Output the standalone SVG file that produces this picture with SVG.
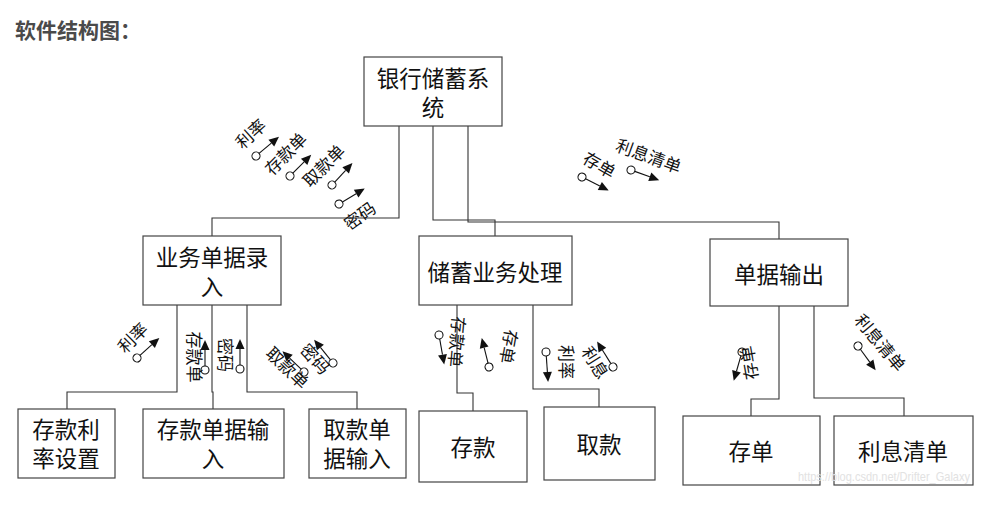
<svg xmlns="http://www.w3.org/2000/svg" xmlns:xlink="http://www.w3.org/1999/xlink" width="989" height="511" viewBox="0 0 989 511">
  <style>
    .box { fill: #ffffff; stroke: #444444; stroke-width: 1.2; }
    .wire { fill: none; stroke: #333333; stroke-width: 1.1; }
    .lbl { font-family: "Noto Sans CJK SC", "Liberation Serif", serif; font-size: 22.5px; fill: #111111; text-anchor: middle; dominant-baseline: central; }
    .flow { font-family: "Noto Sans CJK SC", "Liberation Serif", serif; font-size: 17px; fill: #111111; text-anchor: middle; dominant-baseline: central; }
    .title { font-family: "Noto Sans CJK SC", "Liberation Sans", sans-serif; font-size: 21px; font-weight: bold; fill: #4a4a4a; }
    .mark { font-family: "Liberation Sans", Arial, sans-serif; font-size: 13px; fill: #e2e2e2; }
  </style>
  <defs>
    <!-- data couple: open circle, shaft, filled arrowhead pointing along +x -->
    <g id="couple">
      <line x1="4" y1="0" x2="20" y2="0" stroke="#111111" stroke-width="1.1"/>
      <polygon points="20,-4.5 30,0 20,4.5" fill="#111111"/>
      <circle cx="0" cy="0" r="4" fill="#ffffff" stroke="#111111" stroke-width="1.1"/>
    </g>
  </defs>

  <rect width="989" height="511" fill="#ffffff"/>

  <text class="title" x="15" y="38">软件结构图：</text>

  <!-- connectors -->
  <g id="connectors">
    <polyline class="wire" points="399,126 399,218 212,218 212,236"/>
    <polyline class="wire" points="433,126 433,220 495,220 495,236"/>
    <polyline class="wire" points="468,126 468,222 779,222 779,239"/>

    <polyline class="wire" points="177,305 177,392 67,392 67,409"/>
    <polyline class="wire" points="212,305 212,392 213,392 213,409"/>
    <polyline class="wire" points="247,305 247,392 357,392 357,409"/>

    <polyline class="wire" points="457,305 457,393 473,393 473,411"/>
    <polyline class="wire" points="533,305 533,389 599,389 599,407"/>

    <polyline class="wire" points="779,306 779,399 751,399 751,416"/>
    <polyline class="wire" points="814,306 814,398 904,398 904,416"/>
  </g>

  <!-- data couples on the links -->
  <g id="flows">
    <use xlink:href="#couple" transform="translate(256,156) rotate(-40)"/>
    <use xlink:href="#couple" transform="translate(290,176) rotate(-45)"/>
    <use xlink:href="#couple" transform="translate(332,185) rotate(-47)"/>
    <use xlink:href="#couple" transform="translate(339,204) rotate(-31)"/>
    <text class="flow" transform="translate(250,133) rotate(-42)">利率</text>
    <text class="flow" transform="translate(285,153) rotate(-45)">存款单</text>
    <text class="flow" transform="translate(323,165) rotate(-45)">取款单</text>
    <text class="flow" transform="translate(359,215) rotate(-36)">密码</text>

    <use xlink:href="#couple" transform="translate(582,177) rotate(27)"/>
    <use xlink:href="#couple" transform="translate(631,170) rotate(20)"/>
    <text class="flow" transform="translate(600,164) rotate(30)">存单</text>
    <text class="flow" transform="translate(649,155) rotate(20)">利息清单</text>

    <use xlink:href="#couple" transform="translate(137,358) rotate(-42)"/>
    <use xlink:href="#couple" transform="translate(205,370) rotate(-90)"/>
    <use xlink:href="#couple" transform="translate(240,369) rotate(-90)"/>
    <use xlink:href="#couple" transform="translate(304,372) rotate(-136)"/>
    <use xlink:href="#couple" transform="translate(333,363) rotate(-129)"/>
    <text class="flow" transform="translate(132,337) rotate(-45)">利率</text>
    <text class="flow" transform="translate(195,357) rotate(90)">存款单</text>
    <text class="flow" transform="translate(226,355) rotate(90)">密码</text>
    <text class="flow" transform="translate(288,367) rotate(44)">取款单</text>
    <text class="flow" transform="translate(316,358) rotate(48)">密码</text>

    <use xlink:href="#couple" transform="translate(439,335) rotate(80)"/>
    <use xlink:href="#couple" transform="translate(489,367) rotate(-104)"/>
    <use xlink:href="#couple" transform="translate(546,352) rotate(86)"/>
    <use xlink:href="#couple" transform="translate(613,367) rotate(-122)"/>
    <text class="flow" transform="translate(458,342) rotate(95)">存款单</text>
    <text class="flow" transform="translate(510,347) rotate(100)">存单</text>
    <text class="flow" transform="translate(567,362) rotate(90)">利率</text>
    <text class="flow" transform="translate(596,362) rotate(58)">利息</text>

    <use xlink:href="#couple" transform="translate(742,352) rotate(106)"/>
    <use xlink:href="#couple" transform="translate(858,346) rotate(54)"/>
    <text class="flow" transform="translate(748,363) rotate(-100)">存单</text>
    <text class="flow" transform="translate(881,342) rotate(50)">利息清单</text>
  </g>

  <!-- top module -->
  <g id="bank-system">
    <rect class="box" x="364" y="57" width="138" height="69"/>
    <text class="lbl"><tspan x="433" y="77">银行储蓄系</tspan><tspan x="433" y="106">统</tspan></text>
  </g>

  <!-- second level -->
  <g id="entry">
    <rect class="box" x="143" y="236" width="138" height="69"/>
    <text class="lbl"><tspan x="212" y="256">业务单据录</tspan><tspan x="212" y="285">入</tspan></text>
  </g>
  <g id="processing">
    <rect class="box" x="419" y="236" width="153" height="69"/>
    <text class="lbl" x="495" y="271">储蓄业务处理</text>
  </g>
  <g id="output">
    <rect class="box" x="710" y="239" width="138" height="67"/>
    <text class="lbl" x="779" y="273">单据输出</text>
  </g>

  <!-- third level -->
  <g id="rate-setting">
    <rect class="box" x="18" y="409" width="97" height="69"/>
    <text class="lbl"><tspan x="66" y="428">存款利</tspan><tspan x="66" y="457">率设置</tspan></text>
  </g>
  <g id="deposit-input">
    <rect class="box" x="143" y="409" width="141" height="69"/>
    <text class="lbl"><tspan x="213" y="428">存款单据输</tspan><tspan x="213" y="457">入</tspan></text>
  </g>
  <g id="withdraw-input">
    <rect class="box" x="309" y="409" width="97" height="69"/>
    <text class="lbl"><tspan x="357" y="428">取款单</tspan><tspan x="357" y="457">据输入</tspan></text>
  </g>
  <g id="deposit">
    <rect class="box" x="419" y="411" width="108" height="71"/>
    <text class="lbl" x="473" y="446">存款</text>
  </g>
  <g id="withdraw">
    <rect class="box" x="544" y="407" width="111" height="73"/>
    <text class="lbl" x="599" y="443">取款</text>
  </g>
  <g id="receipt">
    <rect class="box" x="683" y="416" width="137" height="69"/>
    <text class="lbl" x="751" y="450">存单</text>
  </g>
  <g id="interest-list">
    <rect class="box" x="834" y="416" width="139" height="69"/>
    <text class="lbl" x="903" y="450">利息清单</text>
  </g>

  <text class="mark" x="798" y="481" textLength="172" lengthAdjust="spacingAndGlyphs">https://blog.csdn.net/Drifter_Galaxy</text>
</svg>
